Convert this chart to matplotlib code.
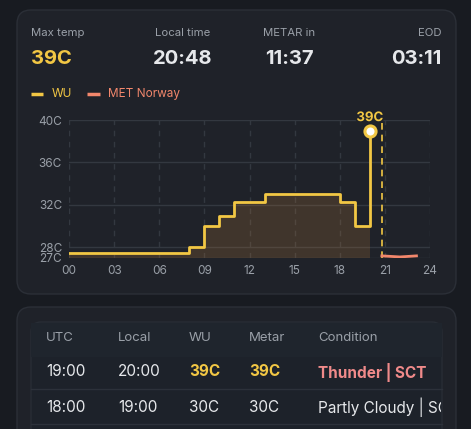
import matplotlib
matplotlib.use("Agg")
import matplotlib.pyplot as plt
import matplotlib.patheffects as pe
from matplotlib.patches import FancyBboxPatch, Rectangle
from matplotlib.transforms import Bbox, TransformedBbox

# --- data ---
wu_hours = [0, 1, 2, 3, 4, 5, 6, 7, 8, 9, 10, 11, 12, 13, 14, 15, 16, 17, 18, 19, 20]
wu_temps = [27.5, 27.5, 27.5, 27.5, 27.5, 27.5, 27.5, 27.5, 28, 30, 31, 32.3, 32.3,
            33, 33, 33, 33, 33, 32.3, 30, 39]
met_hours = [20.8, 22, 23.1]
met_temps = [27.2, 27.1, 27.2]
now_hour = 20.8

y_ticks = [27, 28, 32, 36, 40]
x_ticks = [0, 3, 6, 9, 12, 15, 18, 21, 24]

stats_labels = ["Max temp", "Local time", "METAR in", "EOD"]
stats_values = ["39C", "20:48", "11:37", "03:11"]

table_cols = ["UTC", "Local", "WU", "Metar", "Condition"]
table_rows = [
    ["19:00", "20:00", "39C", "39C", "Thunder | SCT"],
    ["18:00", "19:00", "30C", "30C", "Partly Cloudy | SCT"],
]

# --- colours ---
BG = "#181b21"
CARD = "#1f2229"
BORDER = "#2b2f37"
GRID = "#333840"
MUTED = "#9aa0a8"
TEXT = "#e6e8eb"
YELLOW = "#f2c744"
SALMON = "#f2876c"
PINK = "#f08a8a"

plt.rcParams["font.family"] = ["Inter", "DejaVu Sans"]

W, H = 471, 429
fig = plt.figure(figsize=(W / 100, H / 100), dpi=100, facecolor=BG)

# background layer in pixel coordinates
bg = fig.add_axes([0, 0, 1, 1])
bg.set_xlim(0, W)
bg.set_ylim(H, 0)
bg.axis("off")

def card(x0, y0, x1, y1, r, fc, ec):
    bg.add_patch(FancyBboxPatch((x0 + r, y0 + r), x1 - x0 - 2 * r, y1 - y0 - 2 * r,
                                boxstyle=f"round,pad={r}", fc=fc, ec=ec, lw=1))

card(17, 10, 456, 294, 14, CARD, BORDER)
card(17, 307, 456, 470, 14, CARD, BORDER)
card(31, 322, 442, 470, 10, "#1d222a", "#282d35")

# stats header
xs = [31, 183, 289, 442]
aligns = ["left", "center", "center", "right"]
for i, (lab, val) in enumerate(zip(stats_labels, stats_values)):
    bg.text(xs[i], 33, lab, color=MUTED, fontsize=8.2, ha=aligns[i], va="center")
    bg.text(xs[i], 59, val, color=YELLOW if i == 0 else TEXT, fontsize=14.5,
            fontweight="bold", ha=aligns[i], va="center")

# legend
bg.plot([31, 43], [94, 94], color=YELLOW, lw=2.5, solid_capstyle="butt")
bg.text(52, 94, "WU", color=YELLOW, fontsize=8.5, va="center")
bg.plot([87, 100], [94, 94], color=SALMON, lw=2.5, solid_capstyle="butt")
bg.text(108, 94, "MET Norway", color=SALMON, fontsize=8.5, va="center")

# table
col_x = [46, 118, 189, 249, 318]
bg.add_patch(Rectangle((31, 323), 411, 34, fc="#1f252d", ec="none"))
for x, c in zip(col_x, table_cols):
    bg.text(x, 338, c, color=MUTED, fontsize=9.5, va="center")
for y in [389, 424]:
    bg.plot([31, 442], [y, y], color="#2c313a", lw=1)
clip_box = TransformedBbox(Bbox([[31, 322], [441, 440]]), bg.transData)
for r, (row, y) in enumerate(zip(table_rows, [372, 407])):
    for j, (x, v) in enumerate(zip(col_x, row)):
        if r == 0 and j in (2, 3):
            color, weight = YELLOW, "bold"
        elif r == 0 and j == 4:
            color, weight = PINK, "bold"
        else:
            color, weight = TEXT, "normal"
        t = bg.text(x, y, v, color=color, fontsize=11, fontweight=weight, va="center")
        t.set_clip_on(True)
        t.set_clip_box(clip_box)

# chart
ax = fig.add_axes([69 / W, (H - 258) / H, (430 - 69) / W, (258 - 120) / H])
ax.set_facecolor("none")
ax.set_xlim(0, 24)
ax.set_ylim(27, 40)
for s in ax.spines.values():
    s.set_visible(False)
ax.set_yticks(y_ticks)
ax.set_yticklabels([f"{t}C" for t in y_ticks])
ax.set_xticks(x_ticks)
ax.set_xticklabels([f"{t:02d}" for t in x_ticks])
ax.tick_params(length=0, colors=MUTED, labelsize=8.5, pad=5)
for t in y_ticks:
    ax.axhline(t, color=GRID, lw=1, zorder=0)
for t in x_ticks:
    ax.axvline(t, color=GRID, lw=1, ls=(0, (4, 4)), zorder=0)

ax.fill_between(wu_hours, 27, wu_temps, step="post", color="#c8833a", alpha=0.2,
                lw=0, zorder=1)
ax.step(wu_hours, wu_temps, where="post", color=YELLOW, lw=2, zorder=3)
ax.plot(met_hours, met_temps, color=SALMON, lw=2, zorder=3)
ax.axvline(now_hour, color=YELLOW, lw=1.2, ls=(0, (4, 3)), zorder=2)
ax.plot(wu_hours[-1], wu_temps[-1], "o", ms=8, mfc="white", mec=YELLOW, mew=2.2,
        zorder=4, clip_on=False)
ax.annotate(f"{wu_temps[-1]:.0f}C", (wu_hours[-1], wu_temps[-1]), xytext=(0, 9),
            textcoords="offset points", ha="center", va="center", color=YELLOW,
            fontsize=9.5, fontweight="bold", zorder=5,
            path_effects=[pe.withStroke(linewidth=2.5, foreground=CARD)])

fig.savefig("out.png", dpi=100, facecolor=BG)
